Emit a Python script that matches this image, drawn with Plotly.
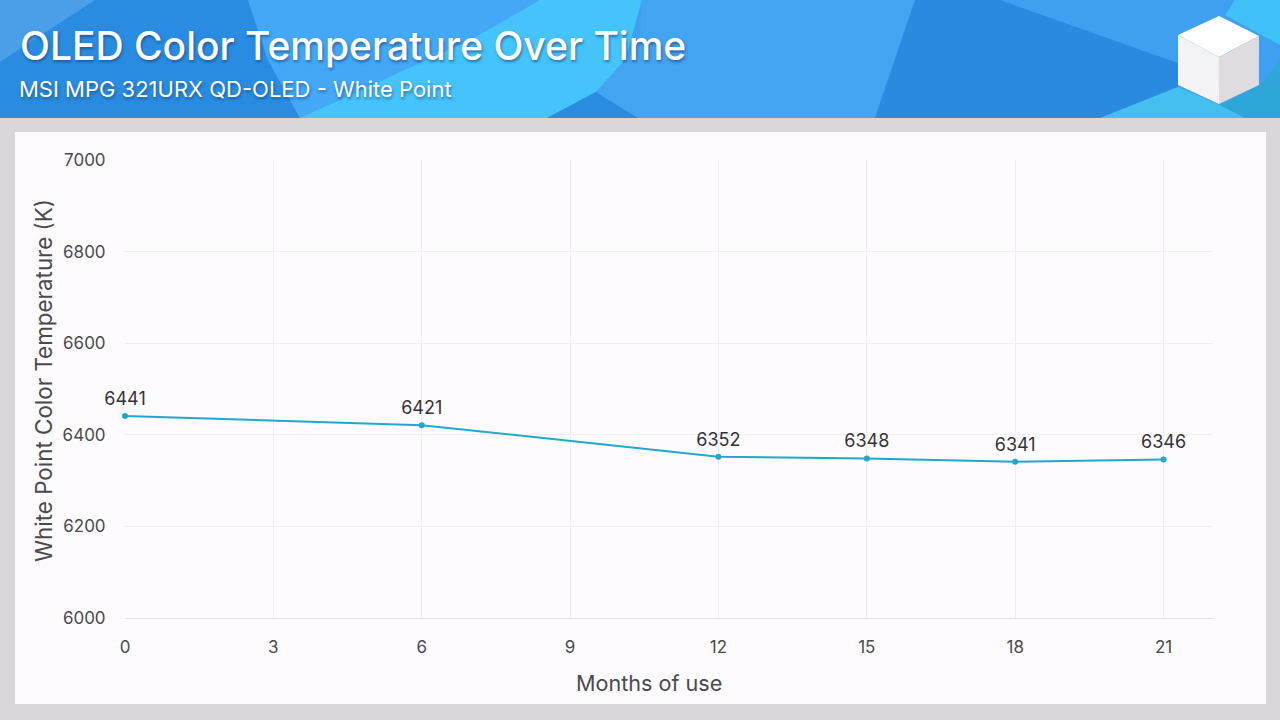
import plotly.graph_objects as go

# chart data
months = [0, 6, 12, 15, 18, 21]
white_point = [6441, 6421, 6352, 6348, 6341, 6346]
x_ticks = [0, 3, 6, 9, 12, 15, 18, 21]
y_ticks = [6000, 6200, 6400, 6600, 6800, 7000]

title_text = "OLED Color Temperature Over Time"
subtitle_text = "MSI MPG 321URX QD-OLED - White Point"
x_title = "Months of use"
y_title = "White Point Color Temperature (K)"

W, H = 1280, 720
FONT = "Inter"
TEXT = "#4a4a4c"

# plot area in page pixels
left, right, top, bottom = 125, 1213, 160, 618


def poly(points, color):
    # banner decoration, points are page pixels
    path = "M" + " L".join(f"{x/W:.5f},{1 - y/H:.5f}" for x, y in points) + " Z"
    return dict(type="path", path=path, xref="paper", yref="paper", layer="below",
                fillcolor=color, line=dict(width=0))


# paper coords here are page fractions, the axes get their own domain
shapes = [
    poly([(0, 0), (1280, 0), (1280, 720), (0, 720)], "#d8d6d8"),
    poly([(15, 132), (1266, 132), (1266, 704), (15, 704)], "#fdfbfe"),
    poly([(0, 0), (1280, 0), (1280, 118), (0, 118)], "#3f9ff0"),
    poly([(0, 0), (95, 0), (0, 62)], "#4a9fe8"),
    poly([(95, 0), (248, 0), (268, 60), (300, 118), (0, 118), (0, 62)], "#2a8ce0"),
    poly([(248, 0), (540, 0), (470, 40), (300, 118), (268, 60)], "#43a8f7"),
    poly([(540, 0), (642, 0), (625, 60), (596, 92), (547, 118), (300, 118), (470, 40)], "#45c4fb"),
    poly([(547, 118), (596, 92), (638, 118)], "#2a8ce0"),
    poly([(642, 0), (640, 40), (625, 60), (596, 92), (638, 118), (875, 118), (915, 0)], "#43a4f2"),
    poly([(915, 0), (1000, 0), (1178, 63), (1178, 87), (1100, 118), (875, 118)], "#2a8ae0"),
    poly([(1100, 118), (1178, 87), (1220, 105), (1245, 118)], "#45bff0"),
    poly([(1220, 105), (1260, 85), (1280, 60), (1280, 118), (1245, 118)], "#2fa6d8"),
    poly([(1235, 0), (1280, 0), (1280, 45), (1225, 15)], "#40c2f9"),
    poly([(1219, 16), (1259, 36), (1219, 57), (1178, 35)], "#ffffff"),
    poly([(1178, 35), (1219, 57), (1219, 104), (1178, 85)], "#f3f2f4"),
    poly([(1219, 57), (1259, 36), (1259, 85), (1219, 104)], "#dedcde"),
]

fig = go.Figure()
fig.add_trace(
    go.Scatter(
        x=months,
        y=white_point,
        mode="lines+markers",
        line=dict(color="#1fa9cc", width=2),
        marker=dict(color="#1fa9cc", size=6),
        cliponaxis=False,
        showlegend=False,
    )
)
# labels sit higher than the small markers would push them, so a bigger clear marker carries them
fig.add_trace(
    go.Scatter(
        x=months,
        y=white_point,
        text=[str(v) for v in white_point],
        mode="markers+text",
        textposition="top center",
        textfont=dict(family=FONT, size=18, color="#333336"),
        marker=dict(color="rgba(0,0,0,0)", size=9),
        cliponaxis=False,
        showlegend=False,
    )
)

shadow = "1px 2px 3px rgba(20,60,110,0.6)"
annotations = [
    dict(text=title_text, x=18 / W, y=1 - 45 / H, xanchor="left", yanchor="middle",
         font=dict(family=FONT, size=39, weight=500, color="#ffffff", shadow=shadow)),
    dict(text=subtitle_text, x=17 / W, y=1 - 89 / H, xanchor="left", yanchor="middle",
         font=dict(family=FONT, size=22, color="#ffffff", shadow=shadow)),
    dict(text=x_title, x=649 / W, y=1 - 683 / H, xanchor="center", yanchor="middle",
         font=dict(family=FONT, size=21.6, color=TEXT)),
    dict(text=y_title, x=43 / W, y=1 - 381 / H, xanchor="center", yanchor="middle", textangle=-90,
         font=dict(family=FONT, size=22.4, color=TEXT)),
]
for a in annotations:
    a.update(xref="paper", yref="paper", showarrow=False)

fig.update_layout(
    width=W,
    height=H,
    margin=dict(l=0, r=0, t=0, b=0),
    paper_bgcolor="#d8d6d8",
    plot_bgcolor="rgba(0,0,0,0)",
    shapes=shapes,
    annotations=annotations,
    showlegend=False,
)
fig.update_xaxes(
    automargin=False,
    domain=[left / W, right / W],
    range=[0, 22],
    tickvals=x_ticks,
    ticks="outside",
    ticklen=14,
    tickcolor="rgba(0,0,0,0)",
    tickfont=dict(family=FONT, size=17, color=TEXT),
    showgrid=True,
    gridcolor="#f0eef1",
    zeroline=False,
    showline=True,
    linecolor="#e4e2e5",
)
fig.update_yaxes(
    automargin=False,
    domain=[1 - bottom / H, 1 - top / H],
    range=[6000, 7000],
    tickvals=y_ticks,
    ticks="outside",
    ticklen=15,
    tickcolor="rgba(0,0,0,0)",
    tickfont=dict(family=FONT, size=17, color=TEXT),
    showgrid=True,
    gridcolor="#f0eef1",
    zeroline=False,
)

fig.write_html("out.html", config={"displayModeBar": False},
               post_script="document.body.style.margin='0';")
